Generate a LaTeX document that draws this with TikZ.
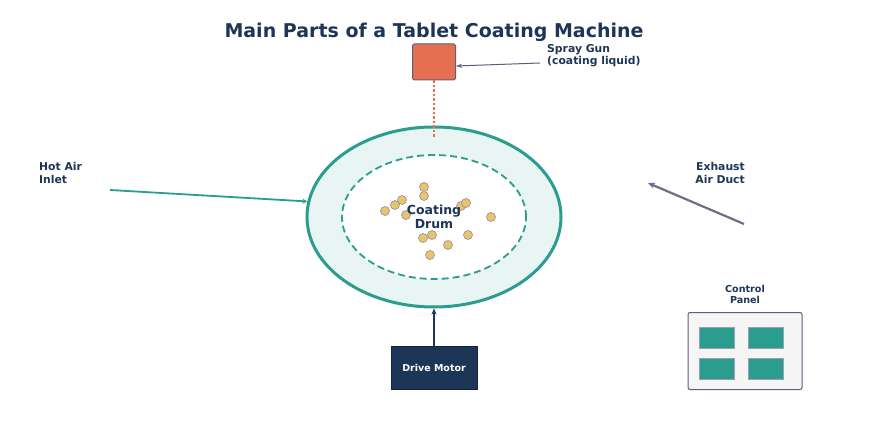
\documentclass[tikz,border=0pt]{standalone}
\usepackage{fontspec}
\setmainfont{DejaVu Sans}
\usetikzlibrary{arrows.meta,shapes.geometric}

\definecolor{navy}{HTML}{1D3557}
\definecolor{drumteal}{HTML}{2A9D8F}
\definecolor{coral}{HTML}{E76F51}
\definecolor{sand}{HTML}{E9C46A}
\definecolor{slate}{HTML}{5A5F7A}
\definecolor{ringfill}{HTML}{E8F5F2}

\tikzset{
  label text/.style={font=\bfseries\fontsize{10.8}{12.2}\selectfont, text=navy, inner sep=0pt},
  tablet/.style={circle, draw=slate!70, fill=sand, line width=0.6pt, minimum size=9pt, inner sep=0pt},
  button/.style={draw=slate!60, fill=drumteal, minimum width=35pt, minimum height=21pt, inner sep=0pt}
}

\begin{document}
\begin{tikzpicture}[x=1pt,y=-1pt]
       \useasboundingbox (0,0) rectangle (869,435);
       \node[font=\bfseries\fontsize{19}{22}\selectfont, text=navy] (title) at (434,32) {Main Parts of a Tablet Coating Machine};
       % drum
       \node[ellipse, draw=drumteal, line width=3pt, fill=ringfill, minimum width=254pt, minimum height=180pt, inner sep=0pt] (drum) at (434,217) {};
       \node[ellipse, draw=drumteal, line width=1.8pt, dash pattern=on 7pt off 4pt, fill=white, minimum width=184pt, minimum height=124pt, inner sep=0pt] (inner) at (434,217) {};
       \foreach \x/\y in {424/187, 424/196, 402/200, 395/205, 385/211, 406/215, 461/206, 466/203,
                          491/217, 423/238, 432/235, 468/235, 448/245, 430/255}
        \node[tablet] at (\x,\y) {};
       \node[font=\bfseries\fontsize{12.5}{14}\selectfont, text=navy, align=center, inner sep=0pt] (drumtext) at (434,217) {Coating\\Drum};
       % spray gun
       \node[draw=slate, line width=1pt, fill=coral, rounded corners=1.5pt, minimum width=43pt, minimum height=36pt] (spray) at (434,62) {};
       \coordinate (nozzle) at (434,138);
       \draw[coral, line width=1.6pt, dash pattern=on 2.5pt off 2pt] (spray.south) -- (nozzle);
       \node[label text, align=left, anchor=west] (spraytext) at (547,56) {Spray Gun\\(coating liquid)};
       \coordinate (sprayfrom) at (540,63);
       \draw[slate, line width=1pt, -{Stealth[length=6pt,width=4pt]}] (sprayfrom) -- ([yshift=-4pt]spray.east);
       % hot air
       \node[label text, align=left, anchor=west] (hotair) at (39,173) {Hot Air\\Inlet};
       \coordinate (hotfrom) at (110,190);
       \draw[drumteal, line width=1.8pt, -{Stealth[length=5pt,width=5pt]}] (hotfrom) -- (drum.173);
       % exhaust
       \node[label text, align=right, anchor=east] (exhaust) at (745,173) {Exhaust\\Air Duct};
       \coordinate (exfrom) at (744,224);
       \coordinate (exto) at (648,183);
       \draw[slate!90, line width=2.2pt, -{Stealth[length=7pt,width=6pt]}] (exfrom) -- (exto);
       % drive motor
       \node[draw=navy!70!black, fill=navy, minimum width=86pt, minimum height=43pt, text=white, font=\bfseries\fontsize{9.5}{11}\selectfont] (motor) at (434,368) {Drive Motor};
       \draw[navy, line width=1.5pt, -{Stealth[length=6pt,width=5pt]}] (motor.north) -- (drum.south);
       % control panel
       \node[font=\bfseries\fontsize{9.6}{11}\selectfont, text=navy, align=center, inner sep=0pt] (paneltext) at (745,294) {Control\\Panel};
       \node[draw=slate, line width=1pt, fill=gray!8, rounded corners=2pt, minimum width=114pt, minimum height=77pt] (panel) at (745,351) {};
       \node[button] (b1) at (717,338) {};
       \node[button] (b2) at (766,338) {};
       \node[button] (b3) at (717,369) {};
       \node[button] (b4) at (766,369) {};
      \end{tikzpicture}
\end{document}
